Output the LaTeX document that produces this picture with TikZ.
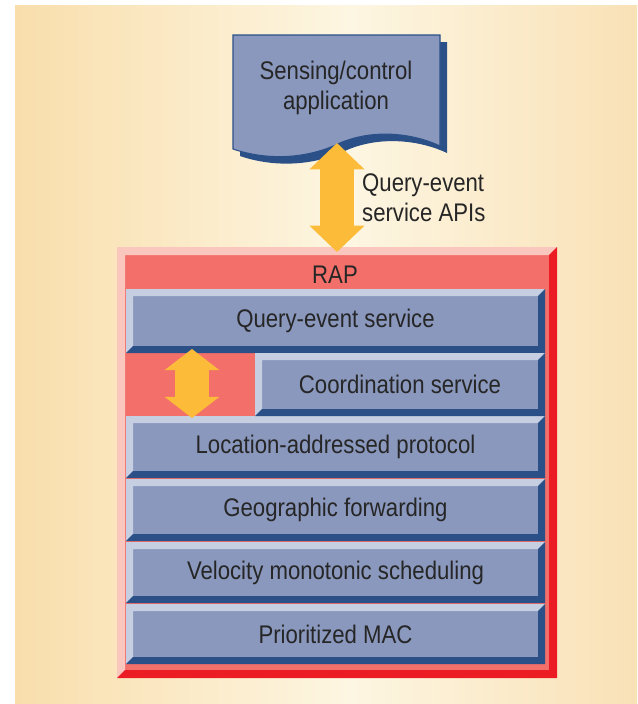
\documentclass[tikz,border=0pt]{standalone}
\usepackage{fontspec}
\setmainfont{Liberation Sans}[FakeStretch=0.87]
\usetikzlibrary{arrows.meta,fit}
\definecolor{bgleft}{HTML}{F9DEAC}
\definecolor{bgmid}{HTML}{FDF6E2}
\definecolor{bgright}{HTML}{F9E1B6}
\definecolor{layerbody}{HTML}{8A98BE}
\definecolor{layerlight}{HTML}{C6CEE2}
\definecolor{layerdark}{HTML}{2B5088}
\definecolor{rapfill}{HTML}{F3706A}
\definecolor{raplight}{HTML}{F9C7BE}
\definecolor{rapdark}{HTML}{EC1C24}
\definecolor{arrowyel}{HTML}{FCBC3A}
\definecolor{txtgray}{HTML}{262626}
\pgfdeclarehorizontalshading{bgshade}{100bp}{color(0bp)=(bgleft); color(25bp)=(bgleft); color(52bp)=(bgmid); color(75bp)=(bgright); color(100bp)=(bgright)}

\newcommand{\bevel}[4]{%
  \fill[#3] (#1.north west) -- (#1.north east) -- ([shift={(-#2,#2)}]#1.north east)
    -- ([shift={(#2,#2)}]#1.north west) -- ([shift={(#2,-#2)}]#1.south west) -- (#1.south west) -- cycle;
  \fill[#4] (#1.south east) -- (#1.north east) -- ([shift={(-#2,#2)}]#1.north east)
    -- ([shift={(-#2,-#2)}]#1.south east) -- ([shift={(#2,-#2)}]#1.south west) -- (#1.south west) -- cycle;
}

\begin{document}
\begin{tikzpicture}[x=0.02cm,y=-0.02cm,
    every node/.style={font=\fontsize{14.5}{16}\selectfont,text=txtgray},
    layer/.style={fill=layerbody,inner sep=0pt,outer sep=0pt},
    rapbox/.style={fill=rapfill,inner sep=0pt,outer sep=0pt},
    fatarrow/.style={draw=arrowyel,line width=19.8pt,
      {Triangle[length=#1,width=30.5pt]}-{Triangle[length=#1,width=30.5pt]}},
    fatarrow/.default=15pt]
    \useasboundingbox (0,0) rectangle (637,704);
    \shade[shading=bgshade] (15,5) rectangle (637,704);

    \fill[layerdark,shift={(7,7)}] (233,35) -- (440,35) -- (440,146)
      .. controls (415,134) and (375,128) .. (340,143)
      .. controls (305,160) and (265,160) .. (233,149) -- cycle;
    \filldraw[fill=layerbody,draw=layerdark,line width=0.6pt] (233,35) -- (440,35) -- (440,146)
      .. controls (415,134) and (375,128) .. (340,143)
      .. controls (305,160) and (265,160) .. (233,149) -- cycle;
    \node[align=center] (app) at (336,88) {Sensing/control\\[1pt]application};
    \coordinate (appbot) at (337,143);

    \node[rapbox,fit={(117,247) (557,678)}] (rap) {};
    \bevel{rap}{8}{raplight}{rapdark}
    \node (raptitle) at (335,275) {RAP};

    \foreach \nm/\ya/\yb/\txt in {qes/289/353/Query-event service,
        las/416/478/Location-addressed protocol,
        geo/479/541/Geographic forwarding,
        vms/542/603/Velocity monotonic scheduling,
        mac/604/664/Prioritized MAC}{
      \node[layer,fit={(126,\ya) (545,\yb)}] (\nm) {};
      \bevel{\nm}{7}{layerlight}{layerdark}
      \node (\nm-txt) at (\nm) {\txt};
    }
    \node[layer,fit={(255,353) (545,416)}] (cos) {};
    \bevel{cos}{7}{layerlight}{layerdark}
    \node (cos-txt) at (cos) {Coordination service};

    \draw[fatarrow] (appbot) -- ([yshift=-1mm]rap.north);
    \node[anchor=west,align=left] (apis) at (356,198) {Query-event\\[1pt]service APIs};
    \draw[fatarrow=12pt] ([xshift=13.2mm,yshift=0.8mm]qes.south west) -- ([xshift=13.2mm,yshift=-0.4mm]las.north west);
\end{tikzpicture}
\end{document}
